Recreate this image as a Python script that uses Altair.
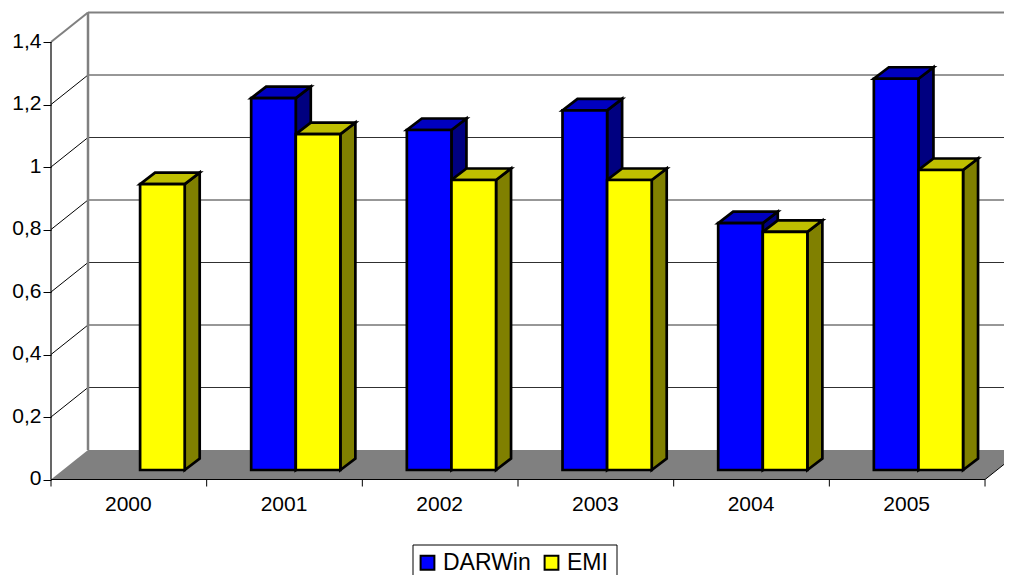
import json
import altair as alt
import pandas as pd

years = ["2000", "2001", "2002", "2003", "2004", "2005"]
darwin = [None, 1.190, 1.088, 1.151, 0.790, 1.252]
emi = [0.915, 1.075, 0.928, 0.928, 0.762, 0.960]
y_ticks = [0, 0.2, 0.4, 0.6, 0.8, 1.0, 1.2, 1.4]

FONT = "Liberation Sans"
WIDTH, HEIGHT = 996, 567
X_UNIT, Y_UNIT = 155.67, 312.5           # px per category / per value
X_DOM = [-43 / X_UNIT, 953 / X_UNIT]
Y_DOM = [-95.5 / Y_UNIT, 471.5 / Y_UNIT]
WALL_DX, WALL_DY = 37 / X_UNIT, 29.5 / Y_UNIT
BAR_DX, BAR_DY = 15 / X_UNIT, 11.5 / Y_UNIT
BASE = 9.5 / Y_UNIT
INSET, BAR_W = 44.5 / X_UNIT, 44.6 / X_UNIT
N = len(years)

xs = alt.Scale(domain=X_DOM, nice=False, zero=False)
ys = alt.Scale(domain=Y_DOM, nice=False, zero=False)


def X(f, **k):
    return alt.X(f, type="quantitative", scale=xs, axis=None, title=None, **k)


def Y(f, **k):
    return alt.Y(f, type="quantitative", scale=ys, axis=None, title=None, **k)


# ---- walls and floor --------------------------------------------------
floor = alt.Chart(pd.DataFrame({
    "x": [0, WALL_DX], "x2": [N, N + WALL_DX], "y": [0, WALL_DY],
})).mark_area(orient="horizontal", color="#808080", clip=True).encode(
    x=X("x"), x2="x2", y=Y("y"))

grid_df = pd.DataFrame({"v": y_ticks})
grid_df["x"] = WALL_DX
grid_df["x2"] = N + WALL_DX
grid_df["x0"] = 0.0
grid_df["yb"] = grid_df["v"] + WALL_DY

back_thin = alt.Chart(grid_df[(grid_df.v > 0) & (grid_df.v < 1.3)]).mark_rule(
    color="#303030", strokeWidth=1, clip=True).encode(x=X("x"), x2="x2", y=Y("yb"))
back_thick = alt.Chart(grid_df[grid_df.v > 1.3]).mark_rule(
    color="#808080", strokeWidth=2, clip=True).encode(x=X("x"), x2="x2", y=Y("yb"))

side_thin = alt.Chart(grid_df[(grid_df.v > 0) & (grid_df.v < 1.3)]).mark_rule(
    color="#000000", strokeWidth=1).encode(x=X("x0"), x2="x", y=Y("v"), y2="yb")
side_top = alt.Chart(grid_df[grid_df.v > 1.3]).mark_rule(
    color="#808080", strokeWidth=2).encode(x=X("x0"), x2="x", y=Y("v"), y2="yb")

wall_edge = alt.Chart(pd.DataFrame({"x": [WALL_DX], "y": [WALL_DY], "y2": [1.4 + WALL_DY]})).mark_rule(
    color="#808080", strokeWidth=2.5).encode(x=X("x"), y=Y("y"), y2="y2")
floor_edge = alt.Chart(pd.DataFrame({"x": [N], "x2": [N + WALL_DX], "y": [0], "y2": [WALL_DY]})).mark_rule(
    color="#000000", strokeWidth=1, clip=True).encode(x=X("x"), x2="x2", y=Y("y"), y2="y2")

# ---- axes ---------------------------------------------------------------
labels_expr = "replace(format(datum.value, '~g'), '.', ',')"
year_expr = json.dumps(years) + "[floor(datum.value)]"

axes = alt.Chart(pd.DataFrame({"x": [0, N], "y": [0, 0]})).mark_line(
    color="#000000", strokeWidth=1.2).encode(
    x=alt.X("x", type="quantitative", scale=xs, title=None, axis=alt.Axis(
        values=[i + 0.5 for i in range(N)], labelExpr=year_expr, ticks=False, domain=False,
        grid=False, offset=-95.5, labelPadding=14, labelOffset=-1, labelFont=FONT, labelFontSize=21,
        labelColor="#000000", labelFlush=False, labelOverlap=False, labelBaseline="top")),
    y=alt.Y("y", type="quantitative", scale=ys, title=None, axis=alt.Axis(
        values=y_ticks, labelExpr=labels_expr, domain=False, grid=False, offset=-43,
        tickSize=8, tickColor="#000000", tickWidth=1, labelPadding=2, labelOffset=-1, labelFont=FONT,
        labelFontSize=21, labelColor="#000000", labelOverlap=False, labelFlush=False)),
)
y_line = alt.Chart(pd.DataFrame({"x": [0], "y": [0], "y2": [1.4]})).mark_rule(
    color="#000000", strokeWidth=1.2).encode(x=X("x"), y=Y("y"), y2="y2")
x_ticks = alt.Chart(pd.DataFrame({"x": list(range(N + 1)), "y": 0.0, "y2": -7 / Y_UNIT})).mark_rule(
    color="#000000", strokeWidth=1).encode(x=X("x"), y=Y("y"), y2="y2")

# ---- bars ---------------------------------------------------------------
rows = []
for i, yr in enumerate(years):
    for s, (name, vals) in enumerate((("DARWin", darwin), ("EMI", emi))):
        if vals[i] is None:
            continue
        left = i + INSET + s * BAR_W
        rows.append({"year": yr, "series": name, "left": left, "right": left + BAR_W,
                     "base": BASE, "top": BASE + vals[i]})
bars = pd.DataFrame(rows)


def side_df(name):
    out = []
    for _, b in bars[bars.series == name].iterrows():
        out.append({"year": b.year, "x": b.right, "y": b.base, "y2": b.top})
        out.append({"year": b.year, "x": b.right + BAR_DX, "y": b.base + BAR_DY, "y2": b.top + BAR_DY})
    return pd.DataFrame(out)


def top_df(name):
    out = []
    for _, b in bars[bars.series == name].iterrows():
        out.append({"year": b.year, "y": b.top, "x": b.left, "x2": b.right})
        out.append({"year": b.year, "y": b.top + BAR_DY, "x": b.left + BAR_DX, "x2": b.right + BAR_DX})
    return pd.DataFrame(out)


def side(name, colour):
    return alt.Chart(side_df(name)).mark_area(
        color=colour, stroke="#000000", strokeWidth=2.7, strokeJoin="miter").encode(
        x=X("x"), y=Y("y"), y2="y2", detail="year:N")


def top(name, colour):
    return alt.Chart(top_df(name)).mark_area(
        orient="horizontal", color=colour, stroke="#000000", strokeWidth=2.7, strokeJoin="miter").encode(
        y=Y("y"), x=X("x"), x2="x2", detail="year:N")


front = alt.Chart(bars).mark_rect(stroke="#000000", strokeWidth=2.7).encode(
    x=X("left"), x2="right", y=Y("base"), y2="top",
    color=alt.Color("series:N", scale=alt.Scale(domain=["DARWin", "EMI"], range=["#0000FF", "#FFFF00"]),
                    legend=alt.Legend(
                        orient="none", legendX=408, legendY=543, direction="horizontal", columns=2,
                        title=None, padding=0,
                        symbolType="square", symbolSize=190, symbolStrokeColor="#000000",
                        symbolStrokeWidth=2, symbolOpacity=1, labelFont=FONT, labelFontSize=23,
                        labelColor="#000000", columnPadding=9, labelOffset=4, labelLimit=200)),
)

# frame of the legend (it runs past the bottom of the picture)
legend_box = alt.Chart(pd.DataFrame({
    "x": [362 / X_UNIT], "x2": [566 / X_UNIT], "y": [-65.5 / Y_UNIT], "y2": [-120 / Y_UNIT],
})).mark_rect(fill="#FFFFFF", stroke="#000000", strokeWidth=1).encode(
    x=X("x"), x2="x2", y=Y("y"), y2="y2")

chart = alt.layer(
    floor, back_thin, back_thick, side_thin, side_top, wall_edge, floor_edge,
    axes, y_line, x_ticks,
    side("DARWin", "#000080"), top("DARWin", "#0000BF"),
    side("EMI", "#808000"), top("EMI", "#BFBF00"),
    front, legend_box,
).resolve_axis(x="independent", y="independent").properties(
    width=WIDTH, height=HEIGHT, padding=0,
    autosize=alt.AutoSizeParams(type="none"),
).configure_view(stroke=None)

chart.save("out.html", embed_options={"renderer": "svg", "actions": False})
